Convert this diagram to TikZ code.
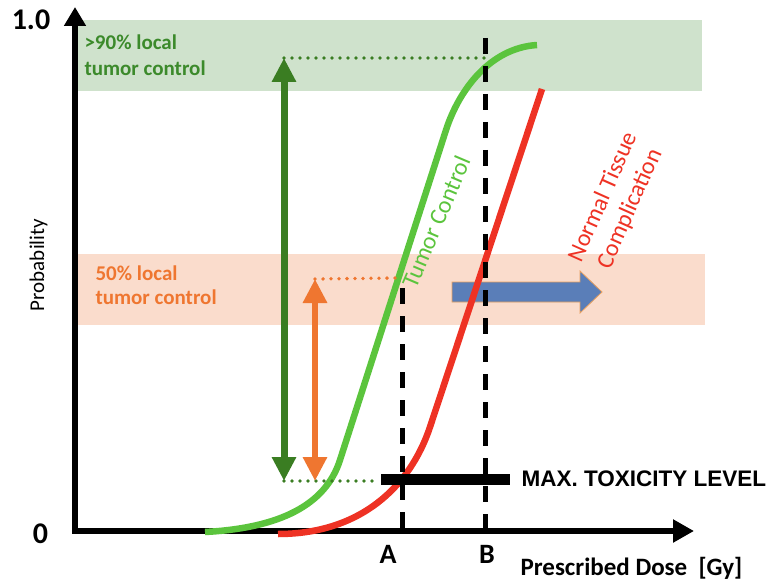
\documentclass[tikz,border=0pt]{standalone}
\usepackage{fontspec}
\setmainfont{Carlito}
\newfontfamily\arialfont{Liberation Sans}
\usetikzlibrary{arrows.meta}
\definecolor{bandgreen}{HTML}{CFE2CC}
\definecolor{bandorange}{HTML}{FADCCC}
\definecolor{curvegreen}{HTML}{5BC43D}
\definecolor{darkgreen}{HTML}{3A7D22}
\definecolor{txtgreen}{HTML}{3C8A2B}
\definecolor{myorange}{HTML}{EF7630}
\definecolor{myred}{HTML}{EE3224}
\definecolor{myblue}{HTML}{5A7EB8}
\definecolor{blueedge}{HTML}{E8A060}
\tikzset{
  axisline/.style={line width=6pt,{Triangle[width=21pt,length=19pt]}-{Triangle[width=22pt,length=21pt]}},
  curve/.style={line width=6.5pt},
  dashedline/.style={line width=4.5pt,dash pattern=on 16pt off 12pt},
  dotline/.style={line width=3.8pt,line cap=round,dash pattern=on 0pt off 8pt},
  dblarrow/.style={line width=7pt,{Triangle[width=23pt,length=24pt]}-{Triangle[width=23pt,length=24pt]}},
  bandlabel/.style={anchor=base west,font=\fontsize{21}{26}\bfseries\selectfont},
  big/.style={font=\fontsize{30}{34}\bfseries\selectfont},
  abtext/.style={anchor=base,font=\fontsize{28}{32}\bfseries\selectfont},
}
\begin{document}
\begin{tikzpicture}[x=1pt,y=-1pt]
\useasboundingbox (0,0) rectangle (774,580);
% bands
\fill[bandgreen] (78,20) rectangle (702,91);
\fill[bandorange] (78,254) rectangle (705,325);
% band labels
\node[bandlabel,text=txtgreen] (g1) at (81,50) {>90\% local};
\node[bandlabel,text=txtgreen] (g2) at (81,76) {tumor control};
\node[bandlabel,text=myorange] (o1) at (92,280) {50\% local};
\node[bandlabel,text=myorange] (o2) at (92,305) {tumor control};
% axes
\coordinate (ytop) at (75,7);
\coordinate (origin) at (75,531);
\coordinate (xend) at (694,531);
\draw[axisline] (ytop) -- (origin) -- (xend);
% axis labels
\node[big,anchor=base] (one) at (31,30) {1.0};
\node[big,anchor=base] (zero) at (40.5,543) {0};
\node[rotate=90,font=\fontsize{21}{24}\selectfont] (prob) at (38.5,265) {Probability};
\node[abtext] (A) at (388,563) {A};
\node[abtext] (B) at (487,563) {B};
\node[anchor=base west,font=\fontsize{25}{30}\bfseries\selectfont] (dose) at (517,575) {Prescribed Dose\ \ [Gy]};
% blue arrow
\filldraw[fill=myblue,draw=blueedge,line width=0.8pt]
  (452,282) -- (580,282) -- (580,271) -- (602,292) -- (580,313) -- (580,302) -- (452,302) -- cycle;
% curves
\draw[curve,curvegreen] (205,532) .. controls (280,528) and (325.6,505) .. (340,460)
  -- (446,130) .. controls (459,90) and (490,48) .. (537,45);
\draw[curve,myred] (278,534) .. controls (360,534) and (410,487) .. (430,427) -- (542,89);
% dashed lines
\coordinate (Atop) at (402.5,288);
\coordinate (Abot) at (402.5,530);
\coordinate (Btop) at (485.5,38);
\coordinate (Bbot) at (485.5,530);
\draw[dashedline] (Atop) -- (Abot);
\draw[dashedline] (Btop) -- (Bbot);
% dotted helper lines
\coordinate (gt) at (284,58);
\coordinate (gb) at (284,481);
\coordinate (ot) at (315,279);
\coordinate (ob) at (315,481);
\coordinate (gtr) at (487,58);
\coordinate (gbr) at (378,481);
\coordinate (otr) at (396,278);
\draw[dotline,darkgreen] (gt) -- (gtr);
\draw[dotline,darkgreen] (gb) -- (gbr);
\draw[dotline,myorange] (ot) -- (otr);
% double arrows
\draw[dblarrow,darkgreen] (gb) -- (gt);
\draw[dblarrow,myorange,line width=6pt] (ob) -- (ot);
% max toxicity bar
\coordinate (barl) at (381,479);
\coordinate (barr) at (510,479);
\draw[line width=11pt] (barl) -- (barr);
\node[anchor=base west,font=\arialfont\fontsize{22.5}{26}\bfseries\selectfont] (tox) at (518,486) {MAX. TOXICITY LEVEL};
% curve labels
\node[rotate=67,text=curvegreen,font=\fontsize{24}{28}\selectfont] (tc) at (436,222) {Tumor Control};
\node[rotate=66,text=myred,align=center,font=\fontsize{24}{29}\selectfont] (ntc) at (617,203) {Normal Tissue\\Complication};
\end{tikzpicture}
\end{document}
